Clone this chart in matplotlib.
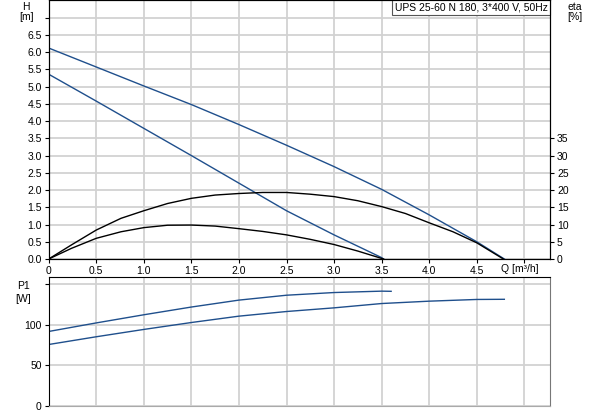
import numpy as np
import matplotlib.pyplot as plt

plt.rcParams['font.family'] = ['Liberation Sans', 'DejaVu Sans']
plt.rcParams['font.size'] = 7.5

# pump curves
q_h1 = [0, 0.5, 1.0, 1.5, 2.0, 2.5, 3.0, 3.5, 4.0, 4.5, 4.79]
h1 = [6.12, 5.57, 5.02, 4.48, 3.9, 3.3, 2.68, 2.02, 1.28, 0.5, 0]
q_h2 = [0, 0.5, 1.0, 1.5, 2.0, 2.5, 3.0, 3.5, 3.52]
h2 = [5.36, 4.58, 3.79, 3.0, 2.2, 1.4, 0.7, 0.04, 0]

q_e1 = [0, 0.24, 0.5, 0.76, 1.0, 1.25, 1.5, 1.75, 2.0, 2.25, 2.5, 2.75, 3.0,
        3.25, 3.5, 3.75, 4.0, 4.25, 4.5, 4.78]
eta1 = [0, 4.1, 8.4, 11.8, 14.0, 16.1, 17.6, 18.55, 19.0, 19.3, 19.3, 18.8, 18.1,
        16.9, 15.2, 13.2, 10.5, 7.9, 4.7, 0]
q_e2 = [0, 0.24, 0.5, 0.76, 1.0, 1.25, 1.5, 1.75, 2.0, 2.25, 2.5, 2.75, 3.0,
        3.25, 3.52]
eta2 = [0, 3.1, 6.0, 7.9, 9.1, 9.8, 9.85, 9.55, 8.8, 8.0, 7.0, 5.7, 4.2,
        2.3, 0]

q_p1 = [0, 0.5, 1.0, 1.5, 2.0, 2.5, 3.0, 3.5, 3.6]
p1 = [91.5, 102, 112, 121.5, 130, 136, 139.3, 141, 140.8]
q_p2 = [0, 0.5, 1.0, 1.5, 2.0, 2.5, 3.0, 3.5, 4.0, 4.5, 4.79]
p2 = [75.5, 85, 94, 102.5, 110.3, 116, 120.5, 125.8, 128.7, 130.8, 131]

q_ticks = [0, 0.5, 1.0, 1.5, 2.0, 2.5, 3.0, 3.5, 4.0, 4.5]
blue = '#1f4f8c'
grid_c = '#d2d2d2'

fig = plt.figure(figsize=(5.93, 4.15), dpi=100)
ax = fig.add_axes([0.0821, 0.3759, 0.8454, 0.623])
ax2 = ax.twinx()
axp = fig.add_axes([0.0821, 0.0217, 0.8454, 0.3101])

xmax = 5.27
for a in (ax, axp):
    a.set_xlim(0, xmax)
    a.set_xticks(np.arange(0, 5.01, 0.5))
    a.grid(True, color=grid_c, linewidth=1.3)
    a.set_axisbelow(True)
    a.tick_params(length=3, width=0.8, pad=2)

# top: head curves
ax.plot(q_h1, h1, color=blue, lw=1.0)
ax.plot(q_h2, h2, color=blue, lw=1.0)
ax.set_ylim(0, 7.5)
ax.set_yticks(np.arange(0, 7.01, 0.5))
ax.set_yticklabels(['%.1f' % v for v in np.arange(0, 6.51, 0.5)] + [''])
ax.set_xticklabels(['0'] + ['%.1f' % v for v in q_ticks[1:]] + [''])

# efficiency on the right scale
ax2.plot(q_e1, eta1, color='black', lw=1.0)
ax2.plot(q_e2, eta2, color='black', lw=1.0)
ax2.set_ylim(0, 75)
ax2.set_yticks(np.arange(0, 36, 5))
ax2.tick_params(length=3, width=0.8, pad=2)

ax.text(-0.045, 0.995, 'H', transform=ax.transAxes, ha='center', va='top')
ax.text(-0.045, 0.955, '[m]', transform=ax.transAxes, ha='center', va='top')
ax.text(1.05, 0.995, 'eta', transform=ax.transAxes, ha='center', va='top')
ax.text(1.05, 0.955, '[%]', transform=ax.transAxes, ha='center', va='top')
ax.text(0.94, -0.02, 'Q [m³/h]', transform=ax.transAxes, ha='center', va='top')
ax.text(0.995, 0.993, 'UPS 25-60 N 180, 3*400 V, 50Hz', transform=ax.transAxes,
        ha='right', va='top', fontsize=7.5, zorder=5,
        bbox=dict(boxstyle='square,pad=0.25', facecolor='white', edgecolor='#555555', linewidth=0.8))

# bottom: power input
axp.plot(q_p1, p1, color=blue, lw=1.0)
axp.plot(q_p2, p2, color=blue, lw=1.0)
axp.set_ylim(0, 158)
axp.set_yticks([0, 50, 100, 150])
axp.set_yticklabels(['0', '50', '100', ''])
axp.set_xticklabels([])
axp.tick_params(axis='x', length=0)
axp.text(-0.05, 0.97, 'P1', transform=axp.transAxes, ha='center', va='top')
axp.text(-0.05, 0.87, '[W]', transform=axp.transAxes, ha='center', va='top')
axp.spines['right'].set_color('#777777')
axp.spines['bottom'].set_color('#aaaaaa')

fig.savefig('out.png', dpi=100)
